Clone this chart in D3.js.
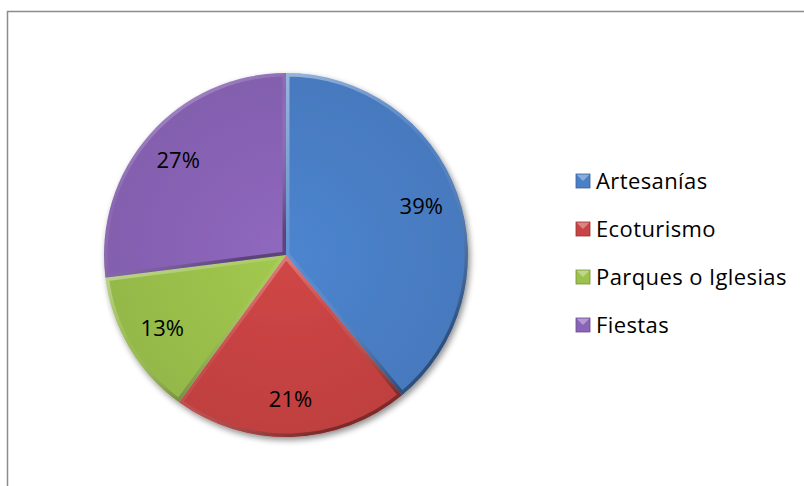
<!DOCTYPE html>
<html>
<head>
<meta charset="utf-8">
<script src="https://cdn.jsdelivr.net/npm/d3@7"></script>
<style>
  body { margin: 0; background: #fff; }
  text { font-family: "Open Sans", Lato, sans-serif; fill: #000; }
</style>
</head>
<body>
<script>
// data
var categories = ["Artesanías", "Ecoturismo", "Parques o Iglesias", "Fiestas"];
var values = [39, 21, 13, 27];
var colors = ["#4a80c8", "#c94444", "#9cc24c", "#8a64b8"];

var width = 804, height = 486;
var cx = 286, cy = 255, r = 182;

var svg = d3.select("body").append("svg")
  .attr("width", width)
  .attr("height", height);

var defs = svg.append("defs");

// drop shadow under the pie
var shadow = defs.append("filter").attr("id", "shadow")
  .attr("x", "-10%").attr("y", "-10%").attr("width", "130%").attr("height", "130%");
shadow.append("feGaussianBlur").attr("in", "SourceAlpha").attr("stdDeviation", 3);
shadow.append("feOffset").attr("dx", 2).attr("dy", 3).attr("result", "off");
shadow.append("feComponentTransfer").append("feFuncA").attr("type", "linear").attr("slope", 0.45);
var merge = shadow.append("feMerge");
merge.append("feMergeNode");
merge.append("feMergeNode").attr("in", "SourceGraphic");

// bevel edge gradient (light top-left, dark bottom-right)
var bev = defs.append("linearGradient").attr("id", "bevel")
  .attr("x1", 0).attr("y1", 0).attr("x2", 0.6).attr("y2", 1);
bev.append("stop").attr("offset", "0%").attr("stop-color", "#fff").attr("stop-opacity", 0.45);
bev.append("stop").attr("offset", "50%").attr("stop-color", "#fff").attr("stop-opacity", 0.05);
bev.append("stop").attr("offset", "100%").attr("stop-color", "#000").attr("stop-opacity", 0.35);

// chart frame
svg.append("path")
  .attr("d", "M7.5," + height + "V11.5H" + width)
  .attr("fill", "none")
  .attr("stroke", "#8c8c8c")
  .attr("stroke-width", 1.5);

var pie = d3.pie().sort(null).value(function(d){ return d; });
var arcs = pie(values);
var arc = d3.arc().innerRadius(0).outerRadius(r);
var labelArc = d3.arc().innerRadius(r * 0.79).outerRadius(r * 0.79);

var g = svg.append("g").attr("transform", "translate(" + cx + "," + cy + ")");

var slices = g.append("g").attr("filter", "url(#shadow)");

arcs.forEach(function(d, i){
  defs.append("clipPath").attr("id", "clip" + i)
    .append("path").attr("d", arc(d));

  // per-slice soft gradient
  var grad = defs.append("radialGradient").attr("id", "fill" + i)
    .attr("gradientUnits", "userSpaceOnUse")
    .attr("cx", 0).attr("cy", 0).attr("r", r);
  grad.append("stop").attr("offset", "0%").attr("stop-color", d3.color(colors[i]).brighter(0.1));
  grad.append("stop").attr("offset", "100%").attr("stop-color", d3.color(colors[i]).darker(0.15));

  slices.append("path")
    .attr("d", arc(d))
    .attr("fill", "url(#fill" + i + ")");
});

arcs.forEach(function(d, i){
  g.append("path")
    .attr("d", arc(d))
    .attr("clip-path", "url(#clip" + i + ")")
    .attr("fill", "none")
    .attr("stroke", "url(#bevel)")
    .attr("stroke-width", 7);
});

g.selectAll("text.lbl")
  .data(arcs)
  .enter().append("text")
  .attr("class", "lbl")
  .attr("transform", function(d){ return "translate(" + labelArc.centroid(d) + ")"; })
  .attr("text-anchor", "middle")
  .attr("dy", "0.36em")
  .style("font-size", "22px")
  .text(function(d){ return d.data + "%"; });

// legend
var legend = svg.append("g").attr("transform", "translate(576,181)");
categories.forEach(function(c, i){
  var row = legend.append("g").attr("transform", "translate(0," + (i * 48) + ")");
  row.append("rect")
    .attr("x", 0).attr("y", -7)
    .attr("width", 14).attr("height", 14)
    .attr("fill", colors[i])
    .attr("stroke", d3.color(colors[i]).darker(0.8))
    .attr("stroke-width", 0.8);
  row.append("path")
    .attr("d", "M0.5,-6.5L7,0L13.5,-6.5Z")
    .attr("fill", "#fff").attr("fill-opacity", 0.35);
  row.append("text")
    .attr("x", 20).attr("dy", "0.36em")
    .style("font-size", "22px")
    .style("letter-spacing", "0.4px")
    .text(c);
});
</script>
</body>
</html>
